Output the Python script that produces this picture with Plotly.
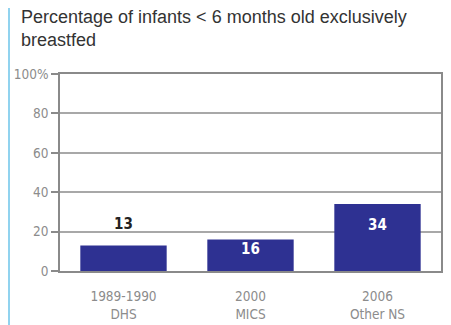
import plotly.graph_objects as go

# Survey periods and sources
anos = ["1989-1990", "2000", "2006"]
fontes = ["DHS", "MICS", "Other NS"]
valores = [13, 16, 34]

y_ticks = [0, 20, 40, 60, 80, 100]
y_labels = ["0", "20", "40", "60", "80", "100%"]

azul = "#2E3192"
cinza = "#8C8C8C"
narrow = "DejaVu Sans Condensed, Liberation Sans Narrow, sans-serif"

categorias = [f"{a}<br>{f}" for a, f in zip(anos, fontes)]

fig = go.Figure()

fig.add_trace(
    go.Bar(
        x=categorias,
        y=valores,
        marker=dict(color=azul, line=dict(width=0)),
        width=0.68,
        hoverinfo="skip",
    )
)

# value labels: first one sits above the bar, others inside
deslocamentos = [21, -10, -21]
cores_texto = ["#222222", "white", "white"]
for cat, v, dy, cor in zip(categorias, valores, deslocamentos, cores_texto):
    fig.add_annotation(
        x=cat, y=v, yshift=dy, text=f"<b>{v}</b>", showarrow=False,
        yanchor="middle", font=dict(family=narrow, size=15, color=cor),
    )

# title as a left-aligned annotation above the plot
fig.add_annotation(
    text="Percentage of infants < 6 months old exclusively<br>breastfed",
    xref="paper", yref="paper", x=-40 / 381, y=(197 + 68) / 197,
    xanchor="left", yanchor="top", align="left", showarrow=False,
    borderpad=0,
    font=dict(family="Liberation Sans, Arial, sans-serif", size=18, color="#333333"),
)

# light blue rule on the left edge
fig.add_shape(
    type="line", xref="paper", yref="paper",
    x0=-51 / 381, x1=-51 / 381, y0=-0.4, y1=1.5,
    line=dict(color="#6CC5EA", width=1.5),
)

# page body adds an 8px margin, so the figure is a bit smaller
fig.update_layout(
    width=443,
    height=317,
    margin=dict(l=52, r=10, t=66, b=54, autoexpand=False),
    paper_bgcolor="white",
    plot_bgcolor="white",
    showlegend=False,
    xaxis=dict(
        showgrid=False, showline=True, linecolor="#8a8a8a", linewidth=1.5,
        mirror=True, ticks="", ticklabelstandoff=12, automargin=False,
        tickfont=dict(family=narrow, size=13.5, color=cinza),
    ),
    yaxis=dict(
        range=[0, 100], tickvals=y_ticks, ticktext=y_labels,
        showgrid=True, gridcolor="#a8a8a8", gridwidth=1.5,
        showline=True, linecolor="#8a8a8a", linewidth=1.5, mirror=True,
        ticks="outside", ticklen=7, tickcolor="#8a8a8a", tickwidth=1.5,
        zeroline=False, automargin=False,
        tickfont=dict(family=narrow, size=13.5, color=cinza),
    ),
)

fig.write_html("out.html")
